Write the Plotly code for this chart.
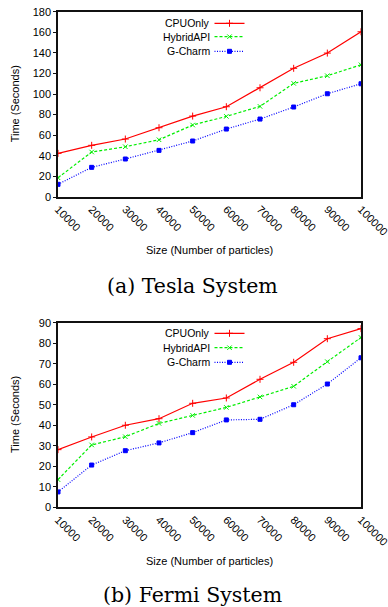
import plotly.graph_objects as go

W, H = 388, 607

sizes = [10000, 20000, 30000, 40000, 50000, 60000, 70000, 80000, 90000, 100000]
size_labels = ["10000", "20000", "30000", "40000", "50000", "60000", "70000", "80000", "90000", "100000"]
series_names = ["CPUOnly", "HybridAPI", "G-Charm"]

tesla_cpu = [42.4, 50.2, 56.3, 67.3, 78.6, 87.7, 106.1, 125.0, 139.8, 160.5]
tesla_hybrid = [18.7, 43.7, 48.8, 55.6, 69.9, 78.3, 88.0, 110.4, 117.8, 128.4]
tesla_gcharm = [12.3, 28.8, 36.9, 45.3, 54.4, 66.0, 75.7, 87.4, 100.3, 110.0]

fermi_cpu = [28.1, 34.3, 40.0, 43.2, 50.7, 53.3, 62.4, 70.7, 82.2, 87.1]
fermi_hybrid = [13.5, 30.4, 34.4, 40.9, 44.8, 48.7, 53.8, 59.0, 71.0, 82.8]
fermi_gcharm = [7.5, 20.6, 27.6, 31.4, 36.4, 42.6, 42.9, 50.0, 60.1, 72.9]

tesla_yticks = [0, 20, 40, 60, 80, 100, 120, 140, 160, 180]
fermi_yticks = [0, 10, 20, 30, 40, 50, 60, 70, 80, 90]

captions = ["(a) Tesla System", "(b) Fermi System"]
xtitle = "Size (Number of particles)"
ytitle = "Time (Seconds)"

FONT = "Liberation Sans, Arial, sans-serif"


def px_x(p):
    return p / W


def px_y(p):
    return 1 - p / H


styles = [
    dict(color="#ff0000", dash="solid", symbol="cross-thin", msize=5),
    dict(color="#00ee00", dash="3px,2px", symbol="x-thin", msize=4.5),
    dict(color="#0000ff", dash="1px,1.5px", symbol="square", msize=4),
]

fig = go.Figure()

panels = [
    dict(data=[tesla_cpu, tesla_hybrid, tesla_gcharm], yticks=tesla_yticks, xa="x", ya="y",
         top=11.7, bottom=197.0, leg_rows=[23.3, 36.7, 51.3], legs=["legend", "legend2", "legend3"],
         xtitle_y=250, cap_y=286),
    dict(data=[fermi_cpu, fermi_hybrid, fermi_gcharm], yticks=fermi_yticks, xa="x2", ya="y2",
         top=322.7, bottom=507.3, leg_rows=[333.3, 347.7, 362.3], legs=["legend4", "legend5", "legend6"],
         xtitle_y=561, cap_y=595),
]

annotations = []
legend_layouts = {}
for pi, p in enumerate(panels):
    for si, (vals, st, name) in enumerate(zip(p["data"], styles, series_names)):
        fig.add_trace(go.Scatter(
            x=sizes, y=vals, name=" ", mode="lines+markers",
            xaxis=p["xa"], yaxis=p["ya"], legend=p["legs"][si],
            line=dict(color=st["color"], width=1.2, dash=st["dash"]),
            marker=dict(symbol=st["symbol"], size=st["msize"], color=st["color"],
                        line=dict(color=st["color"], width=1)),
        ))
        legend_layouts[p["legs"][si]] = dict(
            x=px_x(209.5), y=px_y(p["leg_rows"][si]), xanchor="left", yanchor="middle",
            bgcolor="rgba(0,0,0,0)", borderwidth=0, font=dict(size=10, family=FONT),
            itemwidth=30, tracegroupgap=0,
        )
        annotations.append(dict(
            text=name, x=px_x(212), y=px_y(p["leg_rows"][si]), xref="paper", yref="paper",
            xanchor="right", yanchor="middle", showarrow=False,
            font=dict(size=10.5, family=FONT, color="#000"),
        ))
    annotations.append(dict(
        text=xtitle, x=px_x(209.5), y=px_y(p["xtitle_y"]), xref="paper", yref="paper",
        xanchor="center", yanchor="middle", showarrow=False,
        font=dict(size=11, family=FONT, color="#000"),
    ))
    annotations.append(dict(
        text=ytitle, x=px_x(15), y=px_y((p["top"] + p["bottom"]) / 2), xref="paper", yref="paper",
        xanchor="center", yanchor="middle", showarrow=False, textangle=-90,
        font=dict(size=11, family=FONT, color="#000"),
    ))
    annotations.append(dict(
        text=captions[pi], x=px_x(192.5), y=px_y(p["cap_y"]), xref="paper", yref="paper",
        xanchor="center", yanchor="middle", showarrow=False,
        font=dict(size=20.5, family="DejaVu Serif, serif", color="#000"),
    ))

xdom = [px_x(58), px_x(361)]
common_x = dict(
    domain=xdom, range=[10000, 100000], tickvals=sizes, ticktext=size_labels,
    tickangle=45, showgrid=False, zeroline=False, showline=True, linecolor="#111",
    linewidth=1.5, mirror=True, ticks="", ticklabeloverflow="allow", automargin=False,
    tickfont=dict(size=11, family=FONT, color="#000"),
)

layout = dict(
    width=W, height=H, margin=dict(l=0, r=0, t=0, b=0, autoexpand=False),
    paper_bgcolor="white", plot_bgcolor="white",
    showlegend=True, annotations=annotations,
    xaxis=dict(common_x, anchor="y"),
    xaxis2=dict(common_x, anchor="y2"),
)
for key, p in [("yaxis", panels[0]), ("yaxis2", panels[1])]:
    rng = [p["yticks"][0], p["yticks"][-1]]
    dom = [px_y(p["bottom"]), px_y(p["top"])]
    layout[key] = dict(
        domain=dom, range=rng, tickvals=p["yticks"], showgrid=False, zeroline=False,
        showline=True, linecolor="#111", linewidth=1.5, mirror=True,
        ticks="outside", ticklen=3, tickcolor="#111", tickwidth=1,
        ticklabeloverflow="allow", automargin=False,
        tickfont=dict(size=11, family=FONT, color="#000"),
        anchor="x" if key == "yaxis" else "x2",
    )
layout["yaxis3"] = dict(
    overlaying="y", side="right", anchor="x", range=[tesla_yticks[0], tesla_yticks[-1]],
    tickvals=tesla_yticks, ticks="inside", ticklen=4, tickcolor="#111", tickwidth=1,
    showticklabels=False, showgrid=False, zeroline=False, showline=False, automargin=False,
)
layout["yaxis4"] = dict(
    overlaying="y2", side="right", anchor="x2", range=[fermi_yticks[0], fermi_yticks[-1]],
    tickvals=fermi_yticks, ticks="inside", ticklen=4, tickcolor="#111", tickwidth=1,
    showticklabels=False, showgrid=False, zeroline=False, showline=False, automargin=False,
)
layout.update(legend_layouts)
fig.update_layout(**layout)

post = (
    "var st=document.createElement('style');"
    "st.textContent='html,body{margin:0!important;padding:0!important;overflow:hidden!important;}"
    ".main-svg{overflow:hidden!important;}"
    ".plotly-graph-div,.svg-container{overflow:hidden!important;}';"
    "document.head.appendChild(st);"
)

fig.write_html(
    "out.html",
    config={"displayModeBar": False},
    post_script=post,
)
